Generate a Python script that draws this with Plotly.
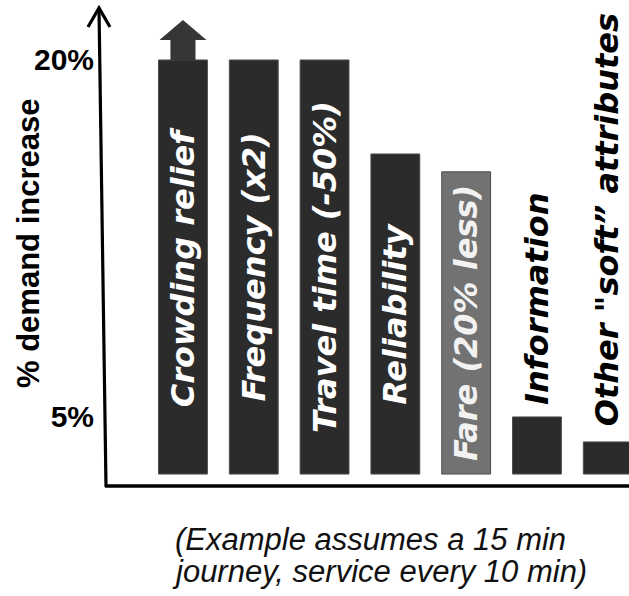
import plotly.graph_objects as go

# Demand response to service attributes (schematic, % demand increase)
categories = [
    "Crowding relief",
    "Frequency (x2)",
    "Travel time (-50%)",
    "Reliability",
    "Fare (20% less)",
    "Information",
    "Other \"soft\u201d attributes",
]
demand_increase = [20, 20, 20, 16.05, 15.3, 5, 3.95]
bar_base = 2.6
tick_values = [5, 20]
tick_labels = ["5%", "20%"]
bar_colors = ["#2b2b2b", "#2b2b2b", "#2b2b2b", "#2b2b2b", "#727272", "#2b2b2b", "#2b2b2b"]
label_inside = [True, True, True, True, True, False, False]
label_colors = ["#ffffff", "#ffffff", "#ffffff", "#ffffff", "#f2f2f2", "#000000", "#000000"]
label_gap = [0, 0, 0, 0, 0, 10, 14]

W, H = 629, 596
ML, MR, MT, MB = 98, 0, 5, 111
PW, PH = W - ML - MR, H - MT - MB

X_RANGE = [-1.2, 6.3]
Y_RANGE = [2.14, 22.31]

LABEL_FONT = dict(family="DejaVu Sans", size=32, weight="bold", style="italic")


def px_x(p):
    return (p - ML) / PW


def px_y(p):
    return (H - MB - p) / PH


xs = list(range(len(categories)))

fig = go.Figure()
fig.add_trace(
    go.Bar(
        x=xs,
        y=[v - bar_base for v in demand_increase],
        base=bar_base,
        width=0.69,
        marker=dict(color=bar_colors, line=dict(color="#4d4d4d", width=1)),
        text=[c if inside else "" for c, inside in zip(categories, label_inside)],
        textposition="inside",
        insidetextanchor="middle",
        textangle=-90,
        textfont=dict(color=label_colors, **LABEL_FONT),
        hoverinfo="skip",
        showlegend=False,
    )
)

# Upward block arrow on top of the crowding bar (effect exceeds the scale)
cx, top = xs[0], demand_increase[0]
hs, hh = 0.177, 0.332
neck, tip = 0.84, 1.68
arrow_path = (
    f"M {cx - hs},{top} L {cx - hs},{top + neck} L {cx - hh},{top + neck} "
    f"L {cx},{top + tip} L {cx + hh},{top + neck} L {cx + hs},{top + neck} "
    f"L {cx + hs},{top} Z"
)

shapes = [
    dict(type="path", xref="x", yref="y", path=arrow_path,
         fillcolor="#363636", line=dict(width=0)),
    # vertical axis with open arrowhead
    dict(type="line", xref="paper", yref="paper",
         x0=px_x(106), y0=px_y(487), x1=px_x(99), y1=px_y(8),
         line=dict(color="black", width=3.2)),
    dict(type="path", xref="paper", yref="paper",
         path=f"M {px_x(88)},{px_y(27)} L {px_x(99)},{px_y(8)} L {px_x(110)},{px_y(27)}",
         line=dict(color="black", width=3.2)),
    # horizontal axis
    dict(type="line", xref="paper", yref="paper",
         x0=px_x(105), y0=px_y(486), x1=px_x(640), y1=px_y(486),
         line=dict(color="black", width=3.6)),
]

annotations = [
    dict(text="% demand increase", xref="paper", yref="paper",
         x=px_x(28), y=px_y(244), textangle=-90, showarrow=False,
         xanchor="center", yanchor="middle",
         font=dict(family="Liberation Sans", size=31, color="black", weight="bold")),
    dict(text="(Example assumes a 15 min", xref="paper", yref="paper",
         x=px_x(370), y=px_y(539), showarrow=False,
         xanchor="center", yanchor="middle",
         font=dict(family="Liberation Sans", size=31, color="#111111", style="italic")),
    dict(text="journey, service every 10 min)", xref="paper", yref="paper",
         x=px_x(379), y=px_y(571), showarrow=False,
         xanchor="center", yanchor="middle",
         font=dict(family="Liberation Sans", size=31, color="#111111", style="italic")),
]

# Labels of the short bars sit above them
for x, name, val, inside, col, gap in zip(xs, categories, demand_increase,
                                          label_inside, label_colors, label_gap):
    if not inside:
        annotations.append(
            dict(text=name, x=x, y=val, xref="x", yref="y", textangle=-90,
                 showarrow=False, xanchor="center", yanchor="bottom", yshift=gap,
                 font=dict(color=col, **LABEL_FONT))
        )

fig.update_layout(
    width=W, height=H,
    margin=dict(l=ML, r=MR, t=MT, b=MB),
    paper_bgcolor="white", plot_bgcolor="white",
    shapes=shapes,
    annotations=annotations,
    uniformtext=dict(minsize=32, mode="show"),
    xaxis=dict(range=X_RANGE, visible=False, fixedrange=True),
    yaxis=dict(
        range=Y_RANGE,
        tickvals=tick_values,
        ticktext=tick_labels,
        ticks="",
        showgrid=False,
        zeroline=False,
        showline=False,
        ticklabelstandoff=3,
        tickfont=dict(family="Liberation Sans", size=30, color="black", weight="bold"),
        fixedrange=True,
    ),
)

fig.write_html("out.html")
